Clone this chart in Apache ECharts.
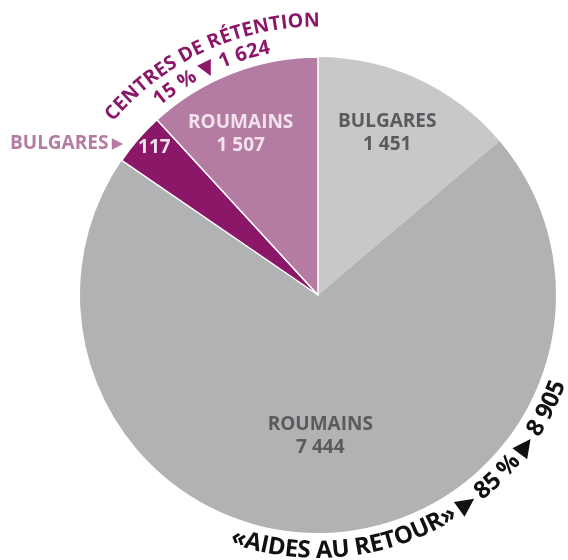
<!DOCTYPE html>
<html><head><meta charset="utf-8">
<script src="https://cdn.jsdelivr.net/npm/echarts@6/dist/echarts.min.js"></script>
<style>html,body{margin:0;padding:0;background:#fff}#c{width:568px;height:560px}</style>
</head><body><div id="c"></div>
<script>
// ---- data ----
const retourNames = ['BULGARES', 'ROUMAINS'];
const retourValues = [1451, 7444];
const retentionNames = ['BULGARES', 'ROUMAINS'];
const retentionValues = [117, 1507];
const groupNames = ['«AIDES AU RETOUR»', 'CENTRES DE RÉTENTION'];
const groupTotals = [8905, 1624];
const groupPercents = [85, 15];

// ---- helpers ----
const fmt = v => String(v).replace(/\B(?=(\d{3})+(?!\d))/g, ' ');
const FAMILY = '"Open Sans", "DejaVu Sans", sans-serif';
const CX = 318, CY = 295, R = 238;
const FS = 19;        // slice labels
const MIN_ANGLE = 13; // smallest visible wedge, degrees

const sumA = retourValues.reduce((a, b) => a + b, 0);
const sumB = retentionValues.reduce((a, b) => a + b, 0);
const angleB = 360 * sumB / (sumA + sumB);
const splitAngle = 90 - 360 * sumA / (sumA + sumB);

// emulate pie "minAngle" inside the retention group
function minAngleWeights(values, span, minDeg) {
  const unit = span / values.reduce((a, b) => a + b, 0);
  const small = values.map(v => v * unit < minDeg);
  const nSmall = small.filter(Boolean).length;
  const restSum = values.filter((v, i) => !small[i]).reduce((a, b) => a + b, 0);
  const restAngle = span - nSmall * minDeg;
  return values.map((v, i) => small[i] ? minDeg * restSum / restAngle : v);
}
const retentionWeights = minAngleWeights(retentionValues, angleB, MIN_ANGLE);

const C_LGRAY = '#c7c8ca', C_GRAY = '#b1b2b4', C_DPURP = '#8b1769', C_LPURP = '#b57ca3';
const TXT_GRAY = '#5a5b5d', TXT_PINK = '#f1e2ec';

const canvas = document.createElement('canvas');
const ctx = canvas.getContext('2d');
function arcText(str, r, centerDeg, dir, color, fs) {
  ctx.font = `bold ${fs}px ${FAMILY}`;
  const chars = [...str];
  const widths = chars.map(ch => ctx.measureText(ch).width);
  const W = widths.reduce((a, b) => a + b, 0);
  const c = centerDeg * Math.PI / 180;
  let acc = 0;
  const els = [];
  chars.forEach((ch, i) => {
    const mid = acc + widths[i] / 2;
    const th = dir > 0 ? c - W / 2 / r + mid / r : c + W / 2 / r - mid / r;
    els.push({
      type: 'text', silent: true,
      x: CX + r * Math.sin(th), y: CY - r * Math.cos(th),
      rotation: dir > 0 ? -th : -(th - Math.PI),
      style: { text: ch, x: 0, y: 0, align: 'center', verticalAlign: 'bottom',
        fontSize: fs, fontWeight: 'bold', fontFamily: FAMILY, fill: color }
    });
    acc += widths[i];
  });
  return els;
}

const labelRich = (color) => ({
  n: { fontFamily: FAMILY, fontWeight: 'bold', fontSize: FS, color: color, lineHeight: 23 },
  v: { fontFamily: FAMILY, fontWeight: 'bold', fontSize: FS, color: color, lineHeight: 23 }
});

// per-item label paddings to move labels away from the mid radius
const retourPads = [[0, 0, 102, 36], [38, 8, 0, 0]];
const retentionPads = [[0, 143, 135, 0], [0, 66, 94, 0]];

const chart = echarts.init(document.getElementById('c'));
chart.setOption({
  animation: false,
  backgroundColor: '#ffffff',
  series: [
    {
      type: 'pie', center: [CX, CY], radius: R,
      startAngle: 90, endAngle: splitAngle, clockwise: true,
      labelLine: { show: false },
      emphasis: { disabled: true },
      data: retourNames.map((n, i) => ({
        name: n, value: retourValues[i],
        itemStyle: { color: i === 0 ? C_LGRAY : C_GRAY },
        label: {
          show: true, position: 'inside', padding: retourPads[i],
          formatter: p => `{n|${p.name}}\n{v|${fmt(p.value)}}`,
          rich: labelRich(TXT_GRAY)
        }
      }))
    },
    {
      type: 'pie', center: [CX, CY], radius: R,
      startAngle: splitAngle, endAngle: -270, clockwise: true,
      labelLine: { show: false },
      emphasis: { disabled: true },
      itemStyle: { borderColor: '#ffffff', borderWidth: 1.5 },
      data: retentionNames.map((n, i) => ({
        name: n, value: retentionWeights[i],
        itemStyle: { color: i === 0 ? C_DPURP : C_LPURP },
        label: {
          show: true, position: 'inside', padding: retentionPads[i],
          formatter: i === 0 ? `{v|${fmt(retentionValues[i])}}` : `{n|${n}}\n{v|${fmt(retentionValues[i])}}`,
          rich: labelRich(TXT_PINK)
        }
      }))
    }
  ],
  graphic: [
    { type: 'text', silent: true, x: 10, y: 144,
      style: { text: `{n|${retentionNames[0]}} {t|▶}`, align: 'left', verticalAlign: 'middle',
        rich: {
          n: { fontSize: FS, fontWeight: 'bold', fontFamily: FAMILY, fill: C_LPURP, color: C_LPURP },
          t: { fontSize: 15, fontFamily: '"DejaVu Sans", sans-serif', fill: C_LPURP, color: C_LPURP }
        } } },
    ...arcText(groupNames[1], 264, -24.7, 1, C_DPURP, 19.5),
    ...arcText(`${groupPercents[1]} % ▼ ${fmt(groupTotals[1])}`, 242, -25.5, 1, C_DPURP, 20),
    ...arcText(`${groupNames[0]} ▶ ${groupPercents[0]} % ▶ ${fmt(groupTotals[0])}`, 268, 154.7, -1, '#111111', 24)
  ]
});
</script>
</body></html>
